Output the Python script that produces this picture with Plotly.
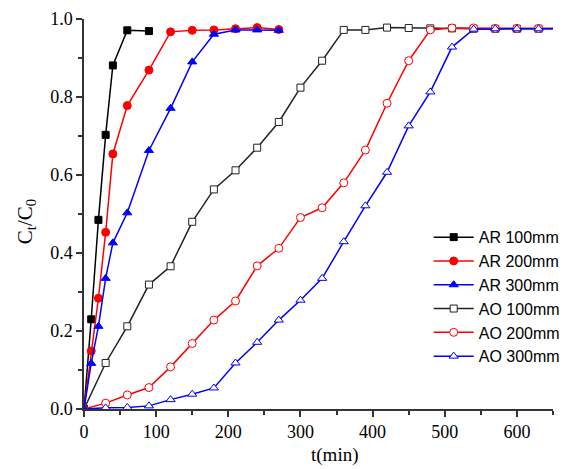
import plotly.graph_objects as go

t_ar = [0, 10, 20, 30, 40, 60, 90]
ar100 = [0, 0.23, 0.485, 0.703, 0.881, 0.971, 0.969]

t_ar2 = [0, 10, 20, 30, 40, 60, 90, 120, 150, 180, 210, 240, 270]
ar200 = [0, 0.149, 0.284, 0.453, 0.654, 0.778, 0.869, 0.967, 0.971, 0.972, 0.975, 0.978, 0.973]
ar300 = [0, 0.117, 0.212, 0.335, 0.426, 0.503, 0.663, 0.771, 0.890, 0.961, 0.972, 0.972, 0.971]

t_ao = [0, 30, 60, 90, 120, 150, 180, 210, 240, 270, 300, 330, 360, 390, 420, 450, 480,
        510, 540, 570, 600, 630, 660]
ao100 = [0, 0.118, 0.212, 0.319, 0.366, 0.480, 0.563, 0.612, 0.670, 0.736, 0.824, 0.893,
         0.972, 0.972, 0.978, 0.977, 0.976, 0.976, 0.975, 0.975, 0.975, 0.975, 0.975]
ao200 = [0, 0.015, 0.036, 0.055, 0.108, 0.168, 0.228, 0.277, 0.367, 0.412, 0.491, 0.516,
         0.580, 0.664, 0.784, 0.893, 0.972, 0.977, 0.977, 0.976, 0.976, 0.976, 0.976]
ao300 = [0, 0.003, 0.004, 0.008, 0.024, 0.038, 0.054, 0.118, 0.171, 0.228, 0.279, 0.335,
         0.429, 0.521, 0.607, 0.726, 0.813, 0.928, 0.974, 0.975, 0.975, 0.975, 0.975]

BLACK = "#000000"
RED = "#ff0000"
BLUE = "#0000ff"

fig = go.Figure()

def add(x, y, name, color, symbol, filled, size, rank):
    fig.add_trace(go.Scatter(
        x=x, y=y, name=name, mode="lines+markers",
        line=dict(color=color, width=1.5),
        marker=dict(symbol=symbol, size=size,
                    color=color if filled else "white",
                    line=dict(color=color, width=1)),
        cliponaxis=True, legendrank=rank,
    ))

add(t_ao, ao100, "AO 100mm", "#222222", "square", False, 7, 4)
add(t_ao, ao200, "AO 200mm", RED, "circle", False, 8, 5)
add(t_ao, ao300, "AO 300mm", BLUE, "triangle-up", False, 8, 6)
add(t_ar, ar100, "AR 100mm", BLACK, "square", True, 7, 1)
add(t_ar2, ar200, "AR 200mm", RED, "circle", True, 8, 2)
add(t_ar2, ar300, "AR 300mm", BLUE, "triangle-up", True, 8, 3)

serif = "Liberation Serif, Times New Roman, serif"

# page body has an 8px default margin, so the figure is 8px smaller than the window
fig.update_layout(
    width=576, height=461,
    margin=dict(l=76, r=31, t=11, b=60),
    paper_bgcolor="white", plot_bgcolor="white",
    showlegend=True,
    legend=dict(x=0.735, y=0.484, xanchor="left", yanchor="top",
                traceorder="normal",
                font=dict(family="Liberation Sans, Arial, sans-serif", size=16, color="black"),
                bgcolor="rgba(0,0,0,0)", itemwidth=40, tracegroupgap=0),
)

fig.update_xaxes(
    range=[0, 650], tickvals=[0, 100, 200, 300, 400, 500, 600], automargin=False,
    showgrid=False, zeroline=False, showline=True, linecolor="#333333", linewidth=1.5,
    ticks="outside", ticklen=6, tickwidth=1.5, tickcolor="#333333",
    minor=dict(tickvals=[50, 150, 250, 350, 450, 550, 650], ticks="outside", ticklen=4,
               tickwidth=1.5, tickcolor="#333333"),
    tickfont=dict(family=serif, size=18, color="black"),
)
fig.update_yaxes(
    range=[0, 1.0], tickvals=[0, 0.2, 0.4, 0.6, 0.8, 1.0], tickformat=".1f", automargin=False,
    showgrid=False, zeroline=False, showline=True, linecolor="#333333", linewidth=1.5,
    ticks="outside", ticklen=6, tickwidth=1.5, tickcolor="#333333",
    minor=dict(tickvals=[0.1, 0.3, 0.5, 0.7, 0.9], ticks="outside", ticklen=4,
               tickwidth=1.5, tickcolor="#333333"),
    tickfont=dict(family=serif, size=18, color="black"),
)

fig.add_annotation(text="C<sub>t</sub>/C<sub>0</sub>", xref="paper", yref="paper",
                   x=-0.125, y=0.48, xanchor="center", yanchor="middle", textangle=-90,
                   showarrow=False, font=dict(family=serif, size=21, color="black"))

fig.add_annotation(text="t(min)", xref="paper", yref="paper", x=0.535, y=-0.085,
                   xanchor="center", yanchor="top", showarrow=False,
                   font=dict(family=serif, size=19, color="black"))

fig.write_html("out.html")
